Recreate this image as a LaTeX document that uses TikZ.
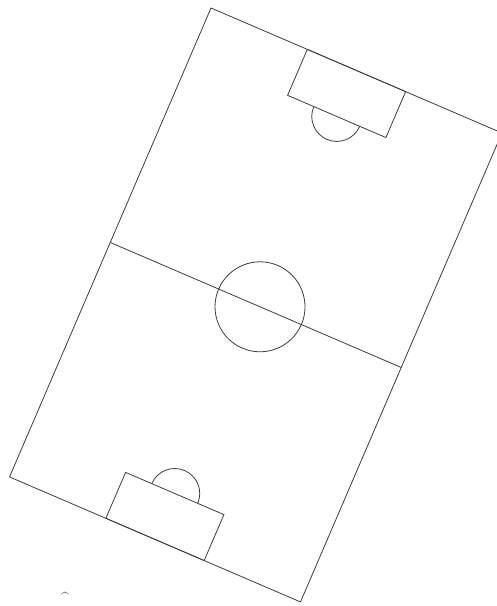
\documentclass[tikz,border=0pt]{standalone}
\usepackage{tikz}
\definecolor{pitchline}{HTML}{3C3C3C}

\begin{document}
\begin{tikzpicture}[x=1pt, y=1pt,
  ln/.style={draw=pitchline, line width=0.8pt}]
\useasboundingbox (0,0) rectangle (497,606);
\begin{scope}[shift={(211,598)}, rotate=-23.25]
  \coordinate (ctr) at (163,-255.2);
  \draw[ln] (0,0) rectangle (316.7,-510.4);
  \draw[ln] (0,-255.2) -- (316.7,-255.2);
  \draw[ln] (ctr) circle (45);
  % top goal area
  \draw[ln] (104.85,0) rectangle (211.85,-50);
  \draw[ln] (183.35,-50) arc (0:-180:25);
  % bottom goal area
  \draw[ln] (104.85,-510.4) rectangle (211.85,-460.4);
  \draw[ln] (133.35,-460.4) arc (180:0:25);
\end{scope}
\node[anchor=base, inner sep=0pt, text=pitchline, font=\fontsize{14}{14}\selectfont] (mark) at (65,3) {\textasciicircum};
\end{tikzpicture}
\end{document}
